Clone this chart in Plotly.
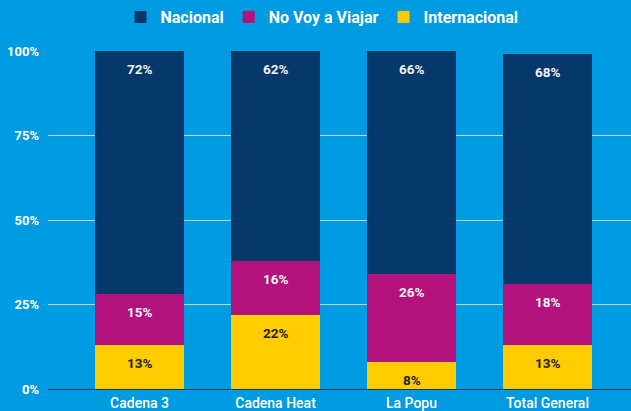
import plotly.graph_objects as go

categories = ["Cadena 3", "Cadena Heat", "La Popu", "Total General"]
internacional = [0.13, 0.22, 0.08, 0.13]
no_voy = [0.15, 0.16, 0.26, 0.18]
nacional = [0.72, 0.62, 0.66, 0.68]
tick_vals = [0, 0.25, 0.5, 0.75, 1.0]
tick_text = ["0%", "25%", "50%", "75%", "100%"]

series = [
    ("Internacional", internacional, "#FFCC00", "#1f1f1f"),
    ("No Voy a Viajar", no_voy, "#B3137C", "#F2F2F2"),
    ("Nacional", nacional, "#06386A", "#F2F2F2"),
]

fig = go.Figure()
base = [0.0] * len(categories)
for name, vals, color, tcolor in series:
    fig.add_trace(go.Bar(
        x=categories, y=vals, name=name,
        marker=dict(color=color, line=dict(width=0)),
        width=0.65,
    ))
    for i, (c, v) in enumerate(zip(categories, vals)):
        top = base[i] + v
        fig.add_annotation(
            x=c, y=top, xref="x", yref="y", yanchor="top", yshift=-8,
            text=f"{round(v*100)}%", showarrow=False,
            font=dict(family="Roboto", size=13.5, color=tcolor, weight="bold"),
        )
        base[i] = top

fig.update_layout(
    barmode="stack",
    width=631, height=411,
    paper_bgcolor="#009BE0", plot_bgcolor="#009BE0",
    margin=dict(l=48, r=0, t=51, b=22, autoexpand=False),
    font=dict(family="Roboto", color="#FFFFFF"),
    showlegend=True,
    legend=dict(
        orientation="h", x=0.47, xanchor="center", y=1.0, yanchor="top",
        yref="container", traceorder="reversed",
        font=dict(family="Roboto", size=16, color="#FFFFFF", weight="bold"),
    ),
    xaxis=dict(
        range=[-0.673, 3.614], showgrid=False, showline=True, automargin=False,
        linecolor="#1E3A5C", linewidth=1, ticks="",
        tickfont=dict(family="Roboto", size=14, color="#FFFFFF", weight=500),
        ticklabelstandoff=1,
    ),
    yaxis=dict(
        range=[0, 1], tickvals=tick_vals, ticktext=tick_text, automargin=False,
        showgrid=True, gridcolor="#BFD3E0", gridwidth=1, zeroline=False,
        tickfont=dict(family="Roboto", size=13, color="#FFFFFF", weight="bold"),
        ticklabelstandoff=8,
    ),
)

fig.write_html("out.html", config={"displayModeBar": False},
               post_script="document.body.style.margin='0';")
